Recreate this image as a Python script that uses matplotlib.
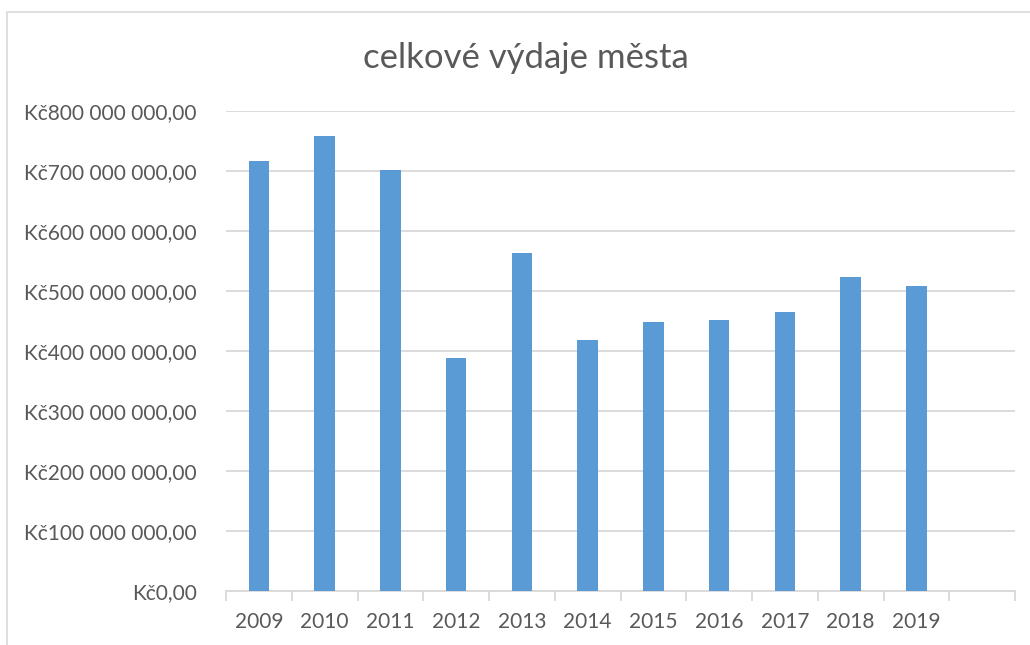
import matplotlib
matplotlib.use("Agg")
import matplotlib.pyplot as plt
from matplotlib.ticker import FuncFormatter, FixedLocator
from matplotlib.patches import Rectangle

# Data (CZK)
years = ["2009", "2010", "2011", "2012", "2013", "2014", "2015", "2016", "2017", "2018", "2019", ""]
spending = [716e6, 759e6, 701e6, 388e6, 563e6, 418e6, 448e6, 452e6, 465e6, 523e6, 508e6, None]

bar_color = "#5B9BD5"
text_color = "#595959"
grid_color = "#D9D9D9"

plt.rcParams['font.family'] = ['Lato', 'DejaVu Sans']

fig = plt.figure(figsize=(10.30, 6.45), dpi=100)
ax = fig.add_axes([226 / 1030, 54 / 645, 789 / 1030, 480 / 645])

xs = list(range(len(years)))
vals = [v if v is not None else 0 for v in spending]
ax.bar(xs, vals, width=0.31, color=bar_color, zorder=3)

ax.set_xlim(-0.5, len(years) - 0.5)
ax.set_ylim(0, 800e6)
ax.set_yticks([i * 100e6 for i in range(9)])


def kc(v, pos):
    if v == 0:
        return "Kč0,00"
    s = f"{int(round(v)):,}".replace(",", " ")
    return f"Kč{s},00"


ax.yaxis.set_major_formatter(FuncFormatter(kc))
ax.grid(axis="y", color=grid_color, linewidth=1.3, zorder=0)
ax.set_axisbelow(True)

ax.set_xticks(xs)
ax.set_xticklabels(years)
ax.xaxis.set_minor_locator(FixedLocator([i - 0.5 for i in range(len(years) + 1)]))
ax.tick_params(axis="x", which="major", length=0, pad=15, labelsize=15, labelcolor=text_color)
ax.tick_params(axis="x", which="minor", length=7, width=1.3, color=grid_color)
ax.tick_params(axis="y", length=0, pad=21, labelsize=15, labelcolor=text_color)

for side in ["top", "right", "left"]:
    ax.spines[side].set_visible(False)
ax.spines["bottom"].set_color(grid_color)
ax.spines["bottom"].set_linewidth(1.3)

fig.text(526 / 1030, 1 - 58 / 645, "celkové výdaje města", ha="center", va="center",
         fontsize=25, color=text_color)

# chart area border (cut off at right and bottom)
fig.patches.append(Rectangle((7 / 1030, -0.05), 1.1, 1 - 12 / 645 + 0.05,
                             transform=fig.transFigure, fill=False,
                             edgecolor=grid_color, linewidth=1.2))

fig.savefig("out.png", dpi=100, facecolor="white")
